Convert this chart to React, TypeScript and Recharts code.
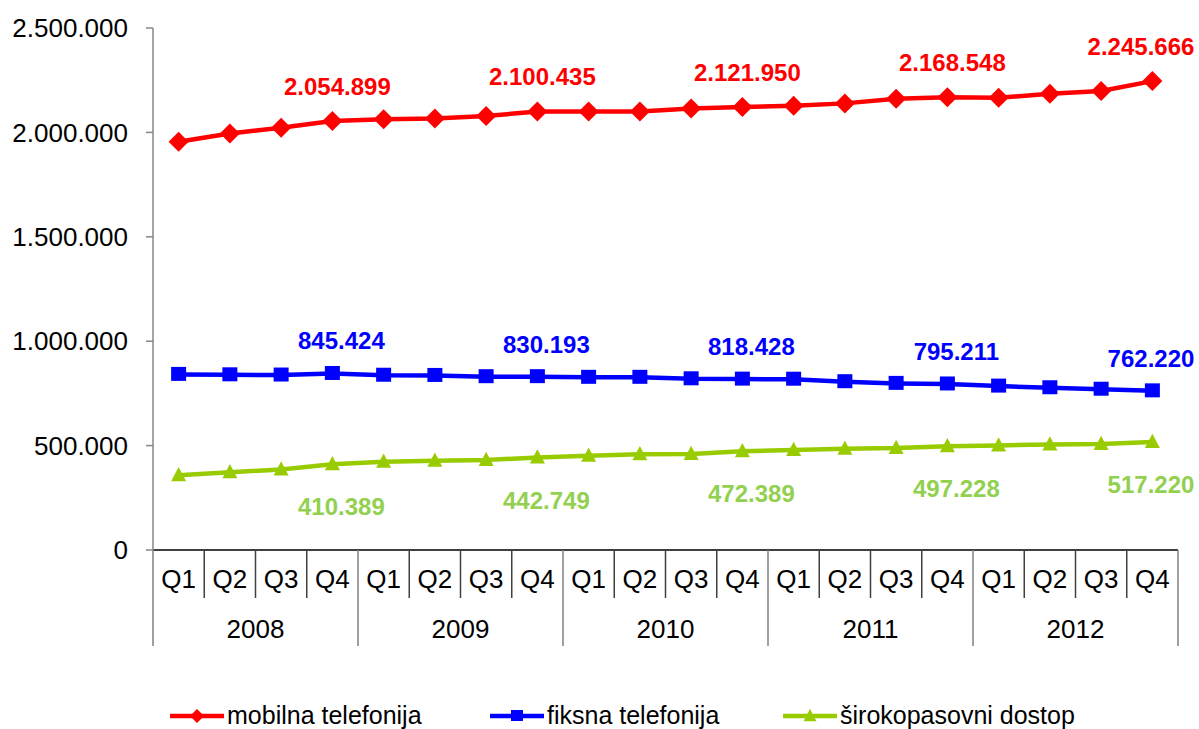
import React from 'react';
import { LineChart, Line, XAxis, YAxis, LabelList } from 'recharts';

const years = ['2008', '2009', '2010', '2011', '2012'];
const quarters = ['Q1', 'Q2', 'Q3', 'Q4'];

const mobilna = [1955000, 1995000, 2022000, 2054899, 2063000, 2067000, 2078000, 2100435, 2100000, 2100000, 2114000, 2121950, 2128000, 2139000, 2161000, 2168548, 2166000, 2185000, 2198000, 2245666];
const fiksna = [841000, 839000, 838000, 845424, 837000, 836000, 830000, 830193, 827000, 827000, 820000, 818428, 818000, 806000, 798000, 795211, 785000, 777000, 770000, 762220];
const sirokopasovni = [358000, 372000, 386000, 410389, 423000, 428000, 431000, 442749, 451000, 458000, 460000, 472389, 479000, 485000, 488000, 497228, 501000, 505000, 508000, 517220];

const yTicks = [0, 500000, 1000000, 1500000, 2000000, 2500000];

const data = mobilna.map((m, i) => ({
  key: `${years[Math.floor(i / 4)]} ${quarters[i % 4]}`,
  year: years[Math.floor(i / 4)],
  q: quarters[i % 4],
  mobilna: m,
  fiksna: fiksna[i],
  sirokopasovni: sirokopasovni[i],
}));

const W = 1199;
const H = 729;
const BAND = 51.25; // width of one quarter slot
const FONT = '"Liberation Sans", Arial, sans-serif';

const RED = '#FF0000';
const BLUE = '#0000FF';
const GREEN = '#99CC00';
const GREEN_TEXT = '#92D050';

const fmt = (v: number) => String(Math.round(v)).replace(/\B(?=(\d{3})+(?!\d))/g, '.');

const QuarterTick = (props: any) => {
  const { x, y, index } = props;
  const half = BAND / 2;
  const q = index % 4;
  const last = index === data.length - 1;
  return (
    <g>
      <line x1={x - half} x2={x - half} y1={y} y2={y + (q === 0 ? 96 : 48)} stroke={q === 0 ? '#808080' : '#404040'} strokeWidth={1.5} />
      {last && <line x1={x + half} x2={x + half} y1={y} y2={y + 96} stroke="#808080" strokeWidth={1.5} />}
      <text x={x} y={y + 38} textAnchor="middle" fontSize={26} fill="#000" fontFamily={FONT}>{data[index].q}</text>
      {q === 1 && (
        <text x={x + half} y={y + 88} textAnchor="middle" fontSize={26} fill="#000" fontFamily={FONT}>{data[index].year}</text>
      )}
    </g>
  );
};

const Diamond = ({ cx, cy, r, fill }: any) => (
  <path d={`M${cx},${cy - r}L${cx + r},${cy}L${cx},${cy + r}L${cx - r},${cy}Z`} fill={fill} />
);
const Square = ({ cx, cy, s, fill }: any) => (
  <rect x={cx - s / 2} y={cy - s / 2} width={s} height={s - 1} fill={fill} />
);
const Triangle = ({ cx, cy, s, fill }: any) => (
  <path d={`M${cx},${cy - s * 0.55}L${cx + s / 2},${cy + s * 0.4}L${cx - s / 2},${cy + s * 0.4}Z`} fill={fill} />
);

const makeLabel = (color: string, dx: number, dy: number) => (props: any) => {
  const { index, value } = props;
  const x = props.x ?? props.viewBox?.x;
  const y = props.y ?? props.viewBox?.y;
  if (index % 4 !== 3) return null;
  const last = index === data.length - 1;
  return (
    <text
      x={last ? x + 42 : x + dx}
      y={y + dy}
      textAnchor={last ? 'end' : 'middle'}
      fill={color}
      fontSize={24}
      fontWeight="bold"
      fontFamily={FONT}
    >
      {fmt(value)}
    </text>
  );
};

const legendItems = [
  { name: 'mobilna telefonija', color: RED, x: 170, marker: 'diamond' },
  { name: 'fiksna telefonija', color: BLUE, x: 490, marker: 'square' },
  { name: 'širokopasovni dostop', color: GREEN, x: 783, marker: 'triangle' },
];

const Legend = () => (
  <svg width={W} height={40} style={{ position: 'absolute', left: 0, top: 696 }}>
    {legendItems.map((it) => {
      const cy = 20;
      const cx = it.x + 27;
      return (
        <g key={it.name}>
          <line x1={it.x} x2={it.x + 54} y1={cy} y2={cy} stroke={it.color} strokeWidth={4.5} />
          {it.marker === 'diamond' && <Diamond cx={cx} cy={cy} r={7} fill={it.color} />}
          {it.marker === 'square' && <Square cx={cx} cy={cy} s={12} fill={it.color} />}
          {it.marker === 'triangle' && <Triangle cx={cx} cy={cy} s={13} fill={it.color} />}
          <text x={it.x + 57} y={cy + 8} fontSize={25} fill="#000" fontFamily={FONT}>{it.name}</text>
        </g>
      );
    })}
  </svg>
);

export default function App() {
  return (
    <div style={{ position: 'absolute', left: 0, top: 0, width: W, height: H, background: '#fff', fontFamily: FONT }}>
      <LineChart
        width={W}
        height={H}
        data={data}
        margin={{ top: 28, right: 21, left: 53, bottom: 79 }}
        style={{ fontFamily: FONT }}
      >
        <XAxis
          dataKey="key"
          interval={0}
          padding={{ left: BAND / 2, right: BAND / 2 }}
          height={100}
          tickLine={false}
          tickSize={0}
          tickMargin={0}
          axisLine={{ stroke: '#000', strokeWidth: 1.5 }}
          tick={<QuarterTick />}
        />
        <YAxis
          width={100}
          domain={[0, 2500000]}
          ticks={yTicks}
          tickFormatter={fmt}
          tickSize={7}
          tickMargin={18}
          axisLine={{ stroke: '#868686', strokeWidth: 1.5 }}
          tickLine={{ stroke: '#868686', strokeWidth: 1.5 }}
          tick={{ fontSize: 26, fill: '#000', fontFamily: FONT }}
        />
        <Line
          type="linear"
          dataKey="mobilna"
          stroke={RED}
          strokeWidth={4.5}
          isAnimationActive={false}
          dot={(p: any) => <Diamond key={`m-${p.index}`} cx={p.cx} cy={p.cy} r={10} fill={RED} />}
        >
          <LabelList dataKey="mobilna" content={makeLabel(RED, 5, -26)} />
        </Line>
        <Line
          type="linear"
          dataKey="fiksna"
          stroke={BLUE}
          strokeWidth={4.5}
          isAnimationActive={false}
          dot={(p: any) => <Square key={`f-${p.index}`} cx={p.cx} cy={p.cy} s={15} fill={BLUE} />}
        >
          <LabelList dataKey="fiksna" content={makeLabel(BLUE, 9, -24)} />
        </Line>
        <Line
          type="linear"
          dataKey="sirokopasovni"
          stroke={GREEN}
          strokeWidth={4.5}
          isAnimationActive={false}
          dot={(p: any) => <Triangle key={`s-${p.index}`} cx={p.cx} cy={p.cy} s={15} fill={GREEN} />}
        >
          <LabelList dataKey="sirokopasovni" content={makeLabel(GREEN_TEXT, 9, 51)} />
        </Line>
      </LineChart>
      <Legend />
    </div>
  );
}
